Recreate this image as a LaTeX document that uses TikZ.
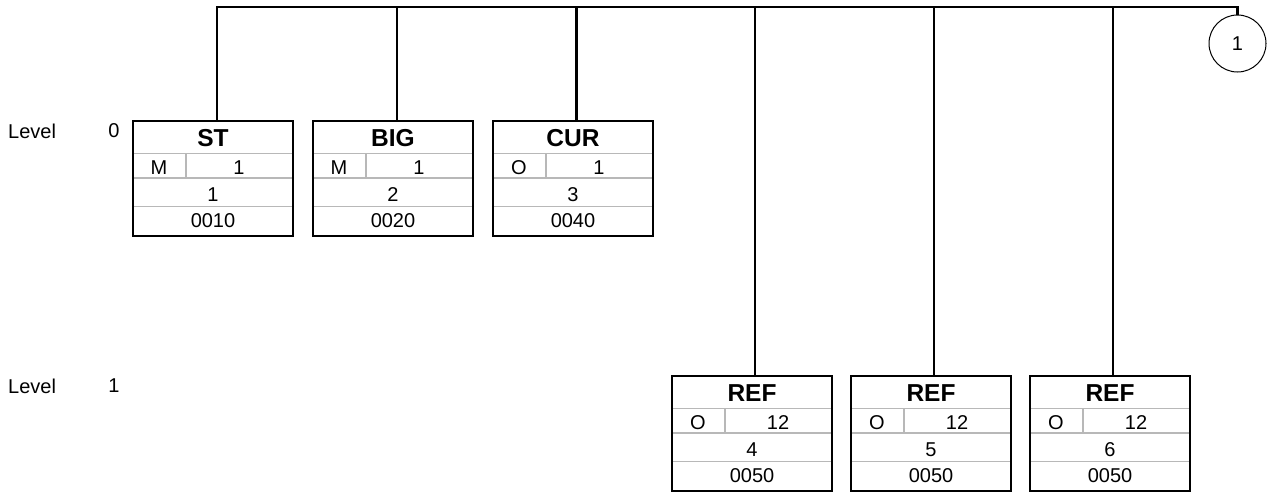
\documentclass[tikz,border=0pt]{standalone}
\usepackage{fontspec}
\setmainfont{Liberation Sans}
\begin{document}
\begin{tikzpicture}[x=1pt,y=-1pt,
  boxframe/.style={draw=black, line width=2pt, minimum width=160pt, minimum height=115pt, inner sep=0pt, anchor=north west},
  rulegray/.style={draw=black!28, line width=1.1pt},
  conn/.style={draw=black, line width=2.2pt, line join=miter},
  titletxt/.style={font=\fontsize{24.5}{24.5}\selectfont\bfseries, inner sep=0pt},
  celltxt/.style={font=\fontsize{20}{20}\selectfont, inner sep=0pt},
  leveltxt/.style={font=\fontsize{20}{20}\selectfont, inner sep=0pt},
  refcircle/.style={draw=black, line width=1pt, circle, minimum size=57pt, inner sep=0pt, font=\fontsize{20}{20}\selectfont}
]
\useasboundingbox (0,0) rectangle (1267,493);

\newcommand\segbox[8]{%
  \node[boxframe] (#1) at (#2,#3) {};
  \draw[rulegray] ([yshift=-33.5pt]#1.north west) -- ([yshift=-33.5pt]#1.north east);
  \draw[rulegray] ([yshift=-58pt]#1.north west) -- ([yshift=-58pt]#1.north east);
  \draw[rulegray] ([yshift=-86.5pt]#1.north west) -- ([yshift=-86.5pt]#1.north east);
  \draw[rulegray] ([xshift=54pt,yshift=-33.5pt]#1.north west) -- ([xshift=54pt,yshift=-58pt]#1.north west);
  \node[draw=black, line width=2pt, minimum width=160pt, minimum height=115pt, inner sep=0pt, anchor=north west] at (#1.north west) {};
  \node[titletxt] (#1-t) at ([yshift=-18.5pt]#1.north) {#4};
  \node[celltxt] (#1-s) at ([xshift=27pt,yshift=-47.5pt]#1.north west) {#5};
  \node[celltxt] (#1-r) at ([xshift=107pt,yshift=-47.5pt]#1.north west) {#6};
  \node[celltxt] (#1-p) at ([yshift=-74.5pt]#1.north) {#7};
  \node[celltxt] (#1-g) at ([yshift=-100.5pt]#1.north) {#8};
}

% level labels
\node[leveltxt, anchor=west] (lv0) at (8,131) {Level};
\node[leveltxt] (lv0n) at (114,131) {0};
\node[leveltxt, anchor=west] (lv1) at (8,386) {Level};
\node[leveltxt] (lv1n) at (114,386) {1};

% level 0 boxes
\segbox{st}{132}{120}{ST}{M}{1}{1}{0010}
\segbox{big}{312}{120}{BIG}{M}{1}{2}{0020}
\segbox{cur}{492}{120}{CUR}{O}{1}{3}{0040}

% level 1 boxes
\segbox{refa}{671}{375}{REF}{O}{12}{4}{0050}
\segbox{refb}{850}{375}{REF}{O}{12}{5}{0050}
\segbox{refc}{1029}{375}{REF}{O}{12}{6}{0050}

% continuation circle
\node[refcircle] (c1) at (1237.5,43.5) {1};

% bus
\coordinate (t1) at (217,7);
\coordinate (t2) at (397,7);
\coordinate (t3) at (576.5,7);
\coordinate (t4) at (755,7);
\coordinate (t5) at (934,7);
\coordinate (t6) at (1113,7);
\coordinate (bend) at (1237.5,7);

\draw[conn] (t1 |- st.north) -- (t1) -- (bend) -- (c1.north);
\draw[conn] (t2) -- (t2 |- big.north);
\draw[conn] (t3) -- (t3 |- cur.north);
\draw[conn] (t4) -- (t4 |- refa.north);
\draw[conn] (t5) -- (t5 |- refb.north);
\draw[conn] (t6) -- (t6 |- refc.north);
\end{tikzpicture}
\end{document}
